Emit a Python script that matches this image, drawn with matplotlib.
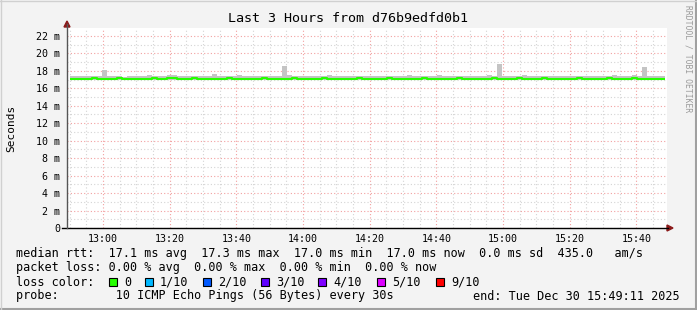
import numpy as np
import pandas as pd
import matplotlib
matplotlib.use("Agg")
import matplotlib.pyplot as plt
import matplotlib.dates as mdates
from matplotlib.ticker import MultipleLocator, FuncFormatter
from matplotlib.patches import Rectangle, Polygon
from matplotlib.lines import Line2D

W, H = 697, 310
MONO = "DejaVu Sans Mono"

# 90 s buckets starting at 12:49:56 (3 hours up to 15:49:11)
start = "2025-12-30 12:49:11"
end = "2025-12-30 15:49:11"

# median rtt in ms
median_ms = [
    17.10, 17.08, 17.10, 17.05, 17.10, 17.12, 17.08, 17.10, 17.02, 17.10,
    17.12, 17.10, 17.08, 17.10, 17.10, 17.05, 17.10, 17.12, 17.10, 17.08,
    17.15, 17.12, 17.10, 17.10, 17.08, 17.12, 17.10, 17.05, 17.10, 17.10,
    17.08, 17.10, 17.12, 17.10, 17.05, 17.10, 17.10, 17.08, 17.10, 17.12,
    17.10, 17.02, 17.10, 17.10, 17.08, 17.12, 17.10, 17.10, 17.05, 17.10,
    17.10, 17.12, 17.10, 17.08, 17.10, 17.10, 17.05, 17.10, 17.12, 17.10,
    17.10, 17.08, 17.10, 17.10, 17.12, 17.10, 17.05, 17.10, 17.10, 17.08,
    17.10, 17.12, 17.10, 17.10, 17.02, 17.10, 17.08, 17.10, 17.12, 17.10,
    17.10, 17.05, 17.10, 17.10, 17.08, 17.12, 17.10, 17.10, 17.05, 17.10,
    17.12, 17.10, 17.08, 17.10, 17.10, 17.12, 17.10, 17.05, 17.10, 17.10,
    17.08, 17.10, 17.12, 17.10, 17.10, 17.05, 17.10, 17.10, 17.12, 17.10,
    17.10, 17.08, 17.10, 17.12, 17.10, 17.10, 17.05, 17.10, 17.10, 17.08,
]

# slowest ping of each bucket (top of the smoke), ms
smoke_max_ms = [
    17.40, 17.45, 17.35, 17.40, 17.45, 17.35, 17.45, 18.10, 17.40, 17.35,
    17.40, 17.30, 17.45, 17.40, 17.35, 17.40, 17.50, 17.45, 17.40, 17.35,
    17.55, 17.50, 17.45, 17.40, 17.45, 17.40, 17.35, 17.40, 17.45, 17.65,
    17.40, 17.35, 17.45, 17.40, 17.50, 17.40, 17.35, 17.45, 17.40, 17.45,
    17.40, 17.35, 17.45, 18.55, 17.50, 17.40, 17.45, 17.35, 17.40, 17.45,
    17.35, 17.40, 17.55, 17.45, 17.40, 17.40, 17.35, 17.45, 17.40, 17.35,
    17.40, 17.45, 17.35, 17.40, 17.45, 17.40, 17.35, 17.40, 17.50, 17.40,
    17.35, 17.45, 17.40, 17.40, 17.55, 17.45, 17.40, 17.35, 17.40, 17.45,
    17.40, 17.35, 17.45, 17.40, 17.50, 17.45, 18.80, 17.40, 17.35, 17.45,
    17.40, 17.50, 17.35, 17.40, 17.45, 17.40, 17.35, 17.40, 17.45, 17.40,
    17.35, 17.40, 17.45, 17.40, 17.35, 17.45, 17.40, 17.40, 17.35, 17.50,
    17.45, 17.40, 17.40, 17.50, 17.45, 18.45, 17.40, 17.45, 17.35, 17.40,
]

# fastest ping of each bucket, ms (mostly hidden under the median line)
smoke_min_ms = [16.95] * 40 + [16.97] * 40 + [16.95] * 40

loss_labels = ["0", "1/10", "2/10", "3/10", "4/10", "5/10", "9/10"]
loss_colors = ["#26ff00", "#00b8ff", "#0059ff", "#5e00ff", "#7e00ff", "#dd00ff", "#ff0000"]

legend_rows = [
    "median rtt:  17.1 ms avg  17.3 ms max  17.0 ms min  17.0 ms now  0.0 ms sd  435.0   am/s",
    "packet loss: 0.00 % avg  0.00 % max  0.00 % min  0.00 % now",
    "loss color:",
    "probe:        10 ICMP Echo Pings (56 Bytes) every 30s",
]
end_text = "end: Tue Dec 30 15:49:11 2025"


def fx(x):
    return x / W


def fy(y):
    return 1 - y / H


times = pd.date_range("2025-12-30 12:49:56", periods=len(median_ms), freq="90s")
med = np.array(median_ms) / 1000
smax = np.array(smoke_max_ms) / 1000
smin = np.array(smoke_min_ms) / 1000

fig = plt.figure(figsize=(W / 100, H / 100), dpi=100)
fig.patch.set_facecolor("#f3f3f3")
ax = fig.add_axes([fx(67), fy(228), fx(667) - fx(67), fy(28) - fy(228)])
ax.set_facecolor("white")

ax.fill_between(times, smin, smax, step="mid", color="#c4c4c4", lw=0)
ax.plot(times, med, drawstyle="steps-mid", color=loss_colors[0], lw=1.5, solid_capstyle="butt")

ax.set_xlim(pd.Timestamp(start), pd.Timestamp(end))
ax.set_ylim(0, 0.0229)

ax.xaxis.set_major_locator(mdates.MinuteLocator(byminute=[0, 20, 40]))
ax.xaxis.set_minor_locator(mdates.MinuteLocator(byminute=range(0, 60, 5)))
ax.xaxis.set_major_formatter(mdates.DateFormatter("%H:%M"))
ax.yaxis.set_major_locator(MultipleLocator(0.002))
ax.yaxis.set_minor_locator(MultipleLocator(0.001))
ax.yaxis.set_major_formatter(FuncFormatter(lambda v, p: "0" if abs(v) < 1e-9 else "%d m" % round(v * 1000)))

ax.grid(which="minor", color="#d4d4d4", linestyle=(0, (1, 2)), lw=0.8)
ax.grid(which="major", color="#f2a0a0", linestyle=(0, (1, 2)), lw=0.8)
ax.set_axisbelow(True)
ax.tick_params(which="both", length=0, labelsize=7.2)
ax.tick_params(axis="x", pad=4)
ax.tick_params(axis="y", pad=5)
for lab in ax.get_xticklabels() + ax.get_yticklabels():
    lab.set_family(MONO)
for s in ax.spines.values():
    s.set_visible(False)

# axes with arrows, rrdtool style
fig.add_artist(Line2D([fx(62), fx(668)], [fy(228), fy(228)], color="black", lw=1))
fig.add_artist(Line2D([fx(67), fx(67)], [fy(228), fy(24)], color="#555555", lw=1))
arrow = "#8b1a1a"
fig.add_artist(Polygon([(fx(667), fy(225)), (fx(673), fy(228)), (fx(667), fy(231))],
                       closed=True, color=arrow, transform=fig.transFigure))
fig.add_artist(Polygon([(fx(64), fy(27)), (fx(67), fy(21)), (fx(70), fy(27))],
                       closed=True, color=arrow, transform=fig.transFigure))

fig.text(0.5, fy(19), "Last 3 Hours from d76b9edfd0b1", ha="center", va="center",
         family=MONO, fontsize=9.6)
fig.text(fx(11), fy(128), "Seconds", rotation=90, ha="center", va="center",
         family=MONO, fontsize=8)
fig.text(fx(688), fy(5), "RRDTOOL / TOBI OETIKER", rotation=-90, ha="center", va="top",
         family=MONO, fontsize=5.8, color="#9a9a9a")

row_y = [254, 268, 282, 296]
for txt, y in zip(legend_rows, row_y):
    fig.text(fx(16), fy(y), txt, ha="left", va="center", family=MONO, fontsize=8.5)
fig.text(fx(680), fy(296), end_text, ha="right", va="center", family=MONO, fontsize=8.5)

box_x = [109, 145, 203, 261, 318, 377, 436]
for bx, col, lab in zip(box_x, loss_colors, loss_labels):
    fig.add_artist(Rectangle((fx(bx), fy(286)), fx(8), 8 / H, facecolor=col,
                             edgecolor="black", lw=0.8, transform=fig.transFigure))
    fig.text(fx(bx + 15), fy(282), lab, ha="left", va="center", family=MONO, fontsize=8.5)

# frame
fig.add_artist(Line2D([0, 1], [fy(309), fy(309)], color="#a0a0a0", lw=1.5))
fig.add_artist(Line2D([fx(696), fx(696)], [0, 1], color="#a0a0a0", lw=1.5))
fig.add_artist(Line2D([0, 1], [fy(0.5), fy(0.5)], color="#d0d0d0", lw=1))
fig.add_artist(Line2D([fx(0.5), fx(0.5)], [0, 1], color="#d0d0d0", lw=1))

fig.savefig("out.png", dpi=100, facecolor=fig.get_facecolor())
